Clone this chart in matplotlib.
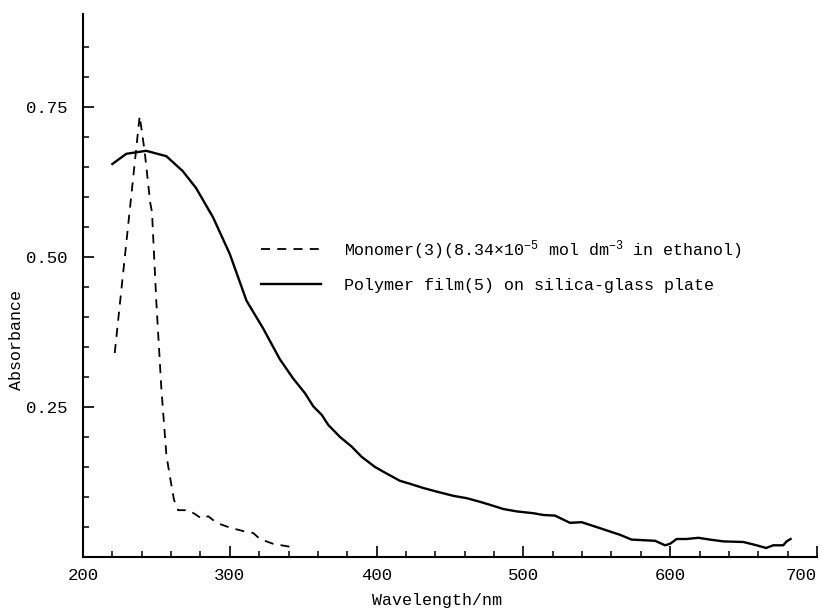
import matplotlib
matplotlib.use("Agg")
import matplotlib.pyplot as plt
from matplotlib.ticker import FixedLocator

# font setup - typewriter look
plt.rcParams['font.family'] = ['Liberation Mono', 'DejaVu Sans']
plt.rcParams['mathtext.fontset'] = 'custom'
plt.rcParams['mathtext.rm'] = 'Liberation Mono'
plt.rcParams['mathtext.it'] = 'Liberation Mono'

# polymer film (5) on silica-glass plate
polymer_nm = [220, 229.5, 243, 256.8, 268, 277, 288.6, 300, 311.4, 322.7, 334, 343,
              351.2, 356.9, 362.6, 367.1, 375.1, 383, 389.8, 398.9, 406.9, 415.9,
              422.8, 431.8, 440.9, 452.2, 461.4, 470.4, 477.2, 486.3, 495.4, 506.7,
              513.6, 521.5, 531.7, 539.7, 552.2, 565.8, 573.7, 589.7, 596.5, 599.9,
              604.4, 611.2, 619.2, 627.1, 636.2, 649.8, 658.9, 665.3, 670.2, 677,
              679.3, 682]
polymer_abs = [0.655, 0.672, 0.677, 0.668, 0.643, 0.615, 0.566, 0.505, 0.427, 0.381, 0.330, 0.298,
               0.273, 0.251, 0.237, 0.220, 0.200, 0.184, 0.167, 0.150, 0.139, 0.127,
               0.122, 0.115, 0.109, 0.102, 0.098, 0.092, 0.087, 0.080, 0.076, 0.073,
               0.070, 0.069, 0.057, 0.058, 0.048, 0.037, 0.029, 0.027, 0.0195, 0.022,
               0.030, 0.030, 0.032, 0.029, 0.026, 0.025, 0.0195, 0.015, 0.0195, 0.0195,
               0.026, 0.030]

# monomer (3) in ethanol
monomer_nm = [221.6, 238.6, 242, 245.8, 247, 250, 253.4, 256.8, 259, 262, 264.8, 271.6,
              276, 280.8, 285.3, 291, 300, 311, 316, 320.5, 329.5, 341]
monomer_abs = [0.34, 0.735, 0.676, 0.59, 0.575, 0.423, 0.28, 0.17, 0.137, 0.095, 0.078, 0.078,
               0.072, 0.064, 0.068, 0.057, 0.049, 0.042, 0.040, 0.030, 0.022, 0.017]

monomer_label = r'Monomer(3)(8.34×10$^{\mathregular{-5}}$ mol dm$^{\mathregular{-3}}$ in ethanol)'
polymer_label = 'Polymer film(5) on silica-glass plate'

x_major = [200, 300, 400, 500, 600, 700]
x_minor = [220, 240, 260, 280, 320, 340, 360, 380, 420, 440, 460, 480,
           520, 540, 560, 580, 620, 640, 660, 680]
y_major = [0.25, 0.50, 0.75]
y_minor = [0.05, 0.10, 0.15, 0.20, 0.30, 0.35, 0.40, 0.45, 0.55, 0.60, 0.65,
           0.70, 0.80, 0.85]

W, H = 822, 609
fig = plt.figure(figsize=(W / 100, H / 100), dpi=100)
ax = fig.add_axes([83 / W, 1 - 557 / H, (817 - 83) / W, (557 - 14) / H])

ax.plot(monomer_nm, monomer_abs, color='black', lw=1.3, dashes=(5, 4), label=monomer_label)
ax.plot(polymer_nm, polymer_abs, color='black', lw=1.7, label=polymer_label)

ax.set_xlim(200, 700)
ax.set_ylim(0, 0.905)

ax.spines['top'].set_visible(False)
ax.spines['right'].set_visible(False)
for s in ['left', 'bottom']:
    ax.spines[s].set_linewidth(1.5)

ax.xaxis.set_major_locator(FixedLocator(x_major))
ax.xaxis.set_minor_locator(FixedLocator(x_minor))
ax.set_xticklabels([str(v) for v in x_major])
ax.yaxis.set_major_locator(FixedLocator(y_major))
ax.yaxis.set_minor_locator(FixedLocator(y_minor))
ax.set_yticklabels(['%.2f' % v for v in y_major])

ax.tick_params(which='major', direction='in', length=8, width=1.2, labelsize=12.5)
ax.tick_params(which='minor', direction='in', length=4, width=1.1)
ax.tick_params(axis='x', which='major', pad=8)
ax.tick_params(axis='y', which='major', pad=11)
# last x label sits against the right edge like in the original
ax.get_xticklabels()[-1].set_horizontalalignment('right')

fig.text(437 / W, 1 - 600 / H, 'Wavelength/nm', ha='center', va='center', fontsize=12)
fig.text(17 / W, 1 - 340 / H, 'Absorbance', ha='center', va='center',
         rotation=90, fontsize=12)

ax.legend(loc='upper left', bbox_to_anchor=(261 / W, 1 - 238 / H),
          bbox_transform=fig.transFigure, frameon=False, fontsize=12,
          handlelength=3.6, handletextpad=1.4, labelspacing=1.0, borderpad=0,
          borderaxespad=0)

fig.savefig('out.png', dpi=100)
